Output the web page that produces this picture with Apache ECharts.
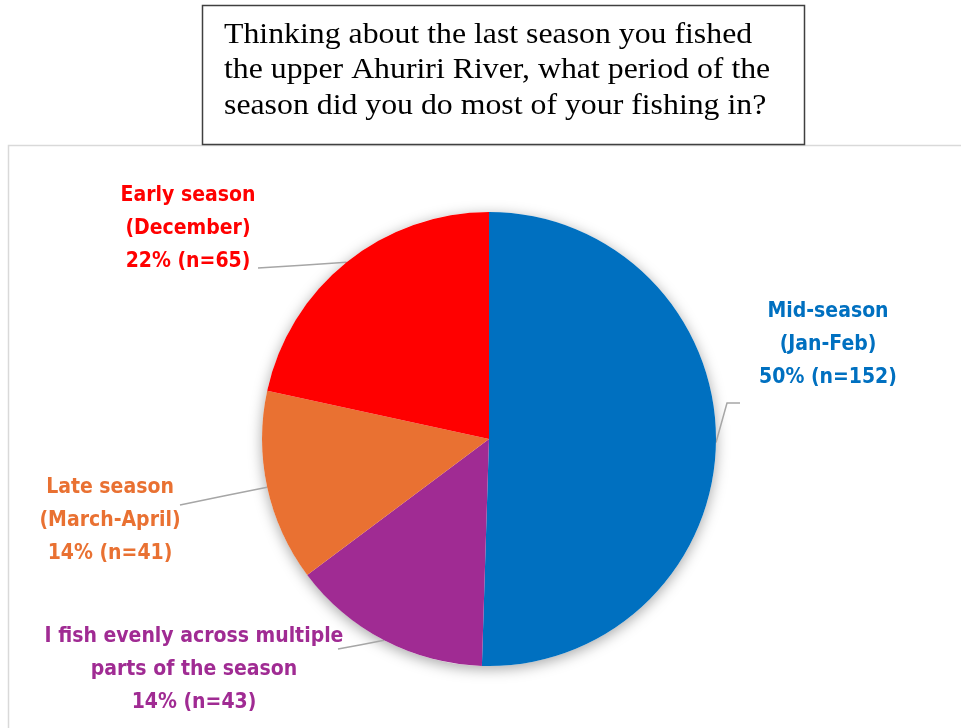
<!DOCTYPE html>
<html>
<head>
<meta charset="utf-8">
<script src="https://cdn.jsdelivr.net/npm/echarts@6/dist/echarts.min.js"></script>
<style>
  html, body { margin: 0; padding: 0; background: #ffffff; }
  #chart { width: 961px; height: 728px; }
</style>
</head>
<body>
<div id="chart"></div>
<script>
// Survey responses: period of the season when most fishing was done
const categories = [
  'Mid-season\n(Jan-Feb)',
  'I fish evenly across multiple\nparts of the season',
  'Late season\n(March-April)',
  'Early season\n(December)'
];
const counts = [152, 43, 41, 65];
const colors = ['#0070C0', '#A02B93', '#E97132', '#FF0000'];
const titleLines = [
  'Thinking about the last season you fished',
  'the upper Ahuriri River, what period of the',
  'season did you do most of your fishing in?'
];

const total = counts.reduce((a, b) => a + b, 0);
const labelFont = '"Liberation Sans Narrow", "DejaVu Sans Condensed", "Roboto", sans-serif';

// Where each label block sits, and where its leader line ends
// (bend: null means a straight leader from the slice edge)
const labelSpots = [
  { x: 828, y: 345, bend: [727, 403], end: [740, 403] },
  { x: 194, y: 670, bend: null, end: [338, 649] },
  { x: 110, y: 521, bend: null, end: [180, 505] },
  { x: 188, y: 229, bend: null, end: [258, 268] }
];

const chart = echarts.init(document.getElementById('chart'), null, { renderer: 'canvas' });

const center = [489, 439];
const radius = 227;

chart.setOption({
  animation: false,
  backgroundColor: '#ffffff',
  graphic: [
    {
      type: 'rect',
      shape: { x: 8.5, y: 145.5, width: 970, height: 600 },
      style: { fill: '#ffffff', stroke: '#d9d9d9', lineWidth: 1.5 },
      z: -10
    },
    {
      type: 'rect',
      shape: { x: 202.5, y: 5.5, width: 602, height: 139 },
      style: { fill: '#ffffff', stroke: '#404040', lineWidth: 1.5 },
      z: 10
    },
    {
      type: 'text',
      x: 224,
      y: 17,
      scaleX: 1.06,
      z: 11,
      style: {
        text: titleLines.join('\n'),
        font: '30px "Liberation Serif", "Times New Roman", serif',
        lineHeight: 35.5,
        verticalAlign: 'top',
        align: 'left',
        fill: '#000000'
      }
    }
  ],
  series: [
    {
      // soft drop shadow behind the whole pie
      type: 'pie',
      silent: true,
      center: center,
      radius: radius,
      z: 1,
      label: { show: false },
      labelLine: { show: false },
      itemStyle: {
        color: '#ffffff',
        shadowBlur: 14,
        shadowColor: 'rgba(0,0,0,0.35)',
        shadowOffsetY: 3
      },
      data: [{ value: total, name: 'all' }]
    },
    {
      type: 'pie',
      center: center,
      radius: radius,
      startAngle: 90,
      clockwise: true,
      z: 2,
      emphasis: { disabled: true },
      itemStyle: { borderWidth: 0 },
      label: {
        show: true,
        position: 'outside',
        fontFamily: labelFont,
        fontWeight: 'bold',
        fontSize: 21,
        lineHeight: 33,
        align: 'center',
        formatter: p => p.name + '\n' + Math.round(p.value / total * 100) + '% (n=' + p.value + ')'
      },
      labelLine: {
        show: true,
        lineStyle: { color: '#a6a6a6', width: 1.5 }
      },
      labelLayout: function (params) {
        const s = labelSpots[params.dataIndex];
        const start = params.labelLinePoints ? params.labelLinePoints[0] : s.end;
        const bend = s.bend || [(start[0] + s.end[0]) / 2, (start[1] + s.end[1]) / 2];
        return {
          x: s.x,
          y: s.y,
          align: 'center',
          verticalAlign: 'middle',
          labelLinePoints: [start, bend, s.end]
        };
      },
      data: categories.map((name, i) => ({
        name: name,
        value: counts[i],
        itemStyle: { color: colors[i] },
        label: { color: colors[i] }
      }))
    }
  ]
});
</script>
</body>
</html>
